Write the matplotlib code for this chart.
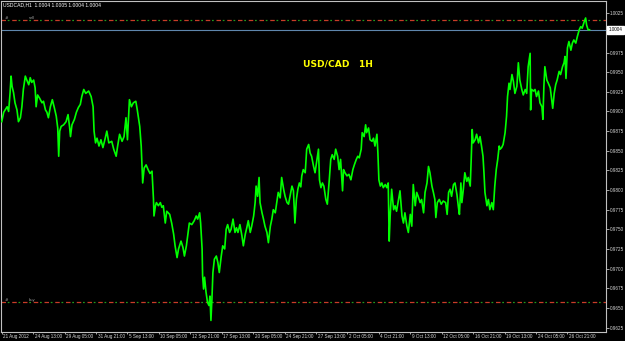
import matplotlib
matplotlib.use("Agg")
import matplotlib.pyplot as plt
import matplotlib.transforms as mtransforms

# hourly bars counted from 21 Aug 2012 00:00 (weekends skipped), prices
bars = [0, 4, 7, 11, 14, 17, 19, 21, 24, 27,
        31, 34, 38, 41, 44, 48, 51, 55, 58, 61,
        65, 68, 70, 73, 77, 82, 85, 89, 92, 95,
        99, 103, 107, 111, 114, 116, 118, 121, 126, 131,
        135, 138, 140, 143, 148, 152, 156, 160, 163, 167,
        171, 177, 182, 186, 188, 191, 194, 198, 202, 206,
        210, 214, 218, 224, 228, 233, 236, 240, 245, 249,
        253, 256, 260, 264, 268, 273, 276, 281, 284, 286,
        287, 290, 294, 298, 302, 306, 309, 310, 313, 315,
        319, 323, 326, 329, 333, 336, 342, 346, 350, 353,
        357, 360, 365, 369, 372, 376, 379, 382, 387, 392,
        396, 399, 403, 405, 408, 409, 411, 413, 416, 419,
        422, 424, 426, 428, 430, 433, 437, 440, 443, 447,
        450, 454, 457, 460, 464, 467, 471, 475, 478, 481,
        485, 489, 492, 496, 499, 502, 506, 509, 513, 516,
        518, 521, 524, 526, 530, 533, 536, 540, 543, 547,
        550, 553, 557, 560, 563, 567, 570, 574, 577, 581,
        584, 587, 591, 594, 597, 600, 603, 606, 609, 611,
        614, 618, 621, 625, 628, 631, 635, 638, 642, 645,
        647, 650, 653, 656, 660, 663, 667, 670, 673, 677,
        680, 684, 687, 690, 694, 696, 699, 703, 707, 711,
        715, 718, 722, 725, 728, 732, 734, 738, 741, 743,
        747, 750, 754, 757, 760, 764, 766, 768, 771, 774,
        777, 781, 784, 787, 789, 791, 794, 798, 801, 804,
        808, 811, 815, 818, 821, 825, 828, 832, 835, 838,
        842, 845, 848, 852, 855, 859, 862, 866, 869, 872,
        876, 879, 882, 884, 887, 891, 895, 899, 904, 907,
        910, 913, 916, 920, 923, 927, 930, 932, 935, 937,
        940, 943, 947, 950, 954, 956, 958, 960, 964, 967,
        971, 974, 977, 980, 982, 984, 988, 991, 994, 998,
        1001, 1004, 1007, 1010, 1013, 1015, 1018, 1021, 1025, 1028,
        1030, 1033, 1035, 1039, 1042, 1045, 1049, 1052, 1055, 1059,
        1062, 1066, 1069, 1072, 1076, 1077, 1079, 1083, 1086, 1089,
        1093, 1096, 1100, 1102, 1104, 1106, 1110, 1113, 1117, 1120,
        1122, 1125, 1128, 1131, 1135, 1138, 1142, 1145, 1147, 1149,
        1152, 1155, 1159, 1162, 1165, 1169, 1172, 1176, 1179, 1182,
        1186, 1189, 1191, 1194, 1197]

prices = [0.9887, 0.9899, 0.9902, 0.9906, 0.9900, 0.9924, 0.9945, 0.9932, 0.9924, 0.9911,
          0.9902, 0.9887, 0.9892, 0.9906, 0.9928, 0.9945, 0.9940, 0.9934, 0.9943, 0.9937,
          0.9940, 0.9930, 0.9906, 0.9921, 0.9917, 0.9911, 0.9913, 0.9902, 0.9899, 0.9892,
          0.9906, 0.9915, 0.9905, 0.9894, 0.9879, 0.9843, 0.9875, 0.9881, 0.9883, 0.9887,
          0.9896, 0.9881, 0.9868, 0.9883, 0.9890, 0.9899, 0.9905, 0.9909, 0.9919, 0.9928,
          0.9923, 0.9926, 0.9919, 0.9906, 0.9875, 0.9860, 0.9866, 0.9856, 0.9864, 0.9854,
          0.9864, 0.9875, 0.9860, 0.9862, 0.9852, 0.9843, 0.9856, 0.9871, 0.9862, 0.9868,
          0.9892, 0.9864, 0.9915, 0.9906, 0.9911, 0.9913, 0.9902, 0.9881, 0.9856, 0.9826,
          0.9809, 0.9828, 0.9832, 0.9826, 0.9821, 0.9824, 0.9788, 0.9767, 0.9780, 0.9784,
          0.9780, 0.9784, 0.9778, 0.9780, 0.9758, 0.9773, 0.9769, 0.9758, 0.9744, 0.9729,
          0.9714, 0.9725, 0.9735, 0.9727, 0.9716, 0.9729, 0.9744, 0.9758, 0.9756, 0.9761,
          0.9767, 0.9763, 0.9771, 0.9758, 0.9725, 0.9691, 0.9674, 0.9689, 0.9670, 0.9657,
          0.9653, 0.9665, 0.9634, 0.9661, 0.9695, 0.9712, 0.9716, 0.9708, 0.9695, 0.9716,
          0.9729, 0.9725, 0.9750, 0.9756, 0.9746, 0.9750, 0.9763, 0.9746, 0.9752, 0.9746,
          0.9756, 0.9742, 0.9729, 0.9744, 0.9752, 0.9761, 0.9746, 0.9754, 0.9767, 0.9784,
          0.9805, 0.9792, 0.9816, 0.9784, 0.9771, 0.9763, 0.9754, 0.9746, 0.9733, 0.9754,
          0.9763, 0.9775, 0.9771, 0.9784, 0.9797, 0.9790, 0.9816, 0.9801, 0.9792, 0.9784,
          0.9782, 0.9792, 0.9805, 0.9799, 0.9758, 0.9788, 0.9801, 0.9809, 0.9804, 0.9818,
          0.9826, 0.9822, 0.9852, 0.9858, 0.9847, 0.9843, 0.9830, 0.9822, 0.9839, 0.9852,
          0.9813, 0.9803, 0.9809, 0.9805, 0.9788, 0.9782, 0.9813, 0.9839, 0.9845, 0.9839,
          0.9852, 0.9843, 0.9826, 0.9839, 0.9799, 0.9826, 0.9822, 0.9818, 0.9820, 0.9813,
          0.9826, 0.9832, 0.9839, 0.9843, 0.9841, 0.9852, 0.9873, 0.9868, 0.9883, 0.9873,
          0.9879, 0.9864, 0.9862, 0.9866, 0.9856, 0.9871, 0.9847, 0.9813, 0.9805, 0.9809,
          0.9803, 0.9807, 0.9803, 0.9809, 0.9735, 0.9767, 0.9801, 0.9775, 0.9780, 0.9773,
          0.9788, 0.9799, 0.9767, 0.9758, 0.9771, 0.9754, 0.9746, 0.9769, 0.9754, 0.9807,
          0.9780, 0.9797, 0.9792, 0.9784, 0.9788, 0.9771, 0.9797, 0.9809, 0.9830, 0.9822,
          0.9805, 0.9797, 0.9788, 0.9765, 0.9784, 0.9788, 0.9782, 0.9786, 0.9784, 0.9769,
          0.9797, 0.9801, 0.9792, 0.9807, 0.9809, 0.9794, 0.9778, 0.9769, 0.9809, 0.9784,
          0.9801, 0.9822, 0.9811, 0.9816, 0.9805, 0.9839, 0.9877, 0.9860, 0.9864, 0.9871,
          0.9860, 0.9868, 0.9856, 0.9843, 0.9822, 0.9797, 0.9780, 0.9788, 0.9775, 0.9784,
          0.9775, 0.9805, 0.9826, 0.9839, 0.9856, 0.9852, 0.9854, 0.9858, 0.9873, 0.9894,
          0.9919, 0.9936, 0.9928, 0.9947, 0.9938, 0.9923, 0.9932, 0.9962, 0.9940, 0.9928,
          0.9921, 0.9928, 0.9923, 0.9957, 0.9974, 0.9902, 0.9928, 0.9926, 0.9928, 0.9919,
          0.9926, 0.9911, 0.9906, 0.9890, 0.9932, 0.9957, 0.9940, 0.9936, 0.9930, 0.9915,
          0.9904, 0.9923, 0.9934, 0.9940, 0.9951, 0.9947, 0.9957, 0.9962, 0.9970, 0.9942,
          0.9981, 0.9989, 0.9978, 0.9987, 0.9991, 0.9987, 0.9995, 1.0004, 1.0008, 1.0006,
          1.0014, 1.0019, 1.0010, 1.0004, 1.0004]

tick_bars = [0, 64, 128, 192, 256, 320, 384, 448, 512, 576,
             640, 704, 768, 832, 896, 960, 1024, 1088, 1152]
tick_labels = ["21 Aug 2012", "24 Aug 13:00", "29 Aug 05:00", "31 Aug 21:00",
               "5 Sep 13:00", "10 Sep 05:00", "12 Sep 21:00", "17 Sep 13:00",
               "20 Sep 05:00", "24 Sep 21:00", "27 Sep 13:00", "2 Oct 05:00",
               "4 Oct 21:00", "9 Oct 13:00", "12 Oct 05:00", "16 Oct 21:00",
               "19 Oct 13:00", "24 Oct 05:00", "26 Oct 21:00"]
price_ticks = [0.9625, 0.9650, 0.9675, 0.9700, 0.9725, 0.9750, 0.9775, 0.9800,
               0.9825, 0.9850, 0.9875, 0.9900, 0.9925, 0.9950, 0.9975, 1.0025]

last_price = 1.0004
sell_level = 1.0016
buy_level = 0.9658
header = "USDCAD,H1  1.0004 1.0005 1.0004 1.0004"

small_font = ["Liberation Sans", "DejaVu Sans"]
grey = "#c0c0c0"

fig = plt.figure(figsize=(6.25, 3.41), dpi=100, facecolor="black")
ax = fig.add_axes([1.5 / 625, 9 / 341, 604.5 / 625, 331 / 341], facecolor="black")

ax.plot(bars, prices, color="#00ff00", lw=1.2, zorder=3)

# bid line and the two order levels
ax.axhline(last_price, color="#5f87ad", lw=0.8, zorder=2)
for lvl in (sell_level, buy_level):
    ax.axhline(lvl, color="#c83c28", lw=0.9, linestyle=(0, (3.6, 5.0)), zorder=2)
    ax.axhline(lvl, color="#1e9a1e", lw=0.9, linestyle=(3.6, (1.4, 7.2)), zorder=2)

ax.set_xlim(-0.5, 1230.5)
ax.set_ylim(0.96193, 1.00406)

for s in ax.spines.values():
    s.set_color(grey)
    s.set_linewidth(0.8)

ax.yaxis.tick_right()
ax.set_yticks(price_ticks)
ax.set_yticklabels([f"{v:.4f}" for v in price_ticks])
ax.tick_params(axis="y", direction="out", length=2, width=0.6, color=grey,
               labelsize=3.3, labelcolor="#d8d8d8", pad=1)

ax.set_xticks(tick_bars)
ax.set_xticklabels(tick_labels)
ax.tick_params(axis="x", direction="out", length=1.5, width=0.6, color=grey,
               labelsize=3.3, labelcolor="#d8d8d8", pad=0.3)
shift = mtransforms.ScaledTranslation(1.5 / 100, 0.5 / 100, fig.dpi_scale_trans)
for lab in ax.get_xticklabels() + ax.get_yticklabels():
    lab.set_family(small_font)
for lab in ax.get_xticklabels():
    lab.set_horizontalalignment("left")
    lab.set_transform(lab.get_transform() + shift)

# price box on the right axis
tr = mtransforms.blended_transform_factory(ax.transAxes, ax.transData)
ax.text(1.004, last_price, "1.0004", transform=tr, ha="left", va="center",
        fontsize=3.3, color="black", family=small_font, clip_on=False,
        bbox=dict(boxstyle="square,pad=0.3", fc="white", ec="white"))

# order markers
for lvl, name in ((sell_level, "sell"), (buy_level, "buy")):
    ax.text(0.005, lvl, "#", transform=tr, fontsize=3, color="#a0a0a0",
            va="bottom", ha="left")
    ax.text(0.045, lvl, name, transform=tr, fontsize=3, color="#a0a0a0",
            va="bottom", ha="left", family=small_font)

fig.text(3 / 625, 1 - 5 / 341, header, fontsize=3.6, color="white",
         va="center", ha="left", family=small_font)

ax.text(0.4988, 0.81, "USD/CAD   1H", transform=ax.transAxes, fontsize=6.6,
        fontweight="bold", color="#ffff00", va="center", ha="left",
        family="DejaVu Sans")

fig.savefig("out.png", dpi=100, facecolor="black")
